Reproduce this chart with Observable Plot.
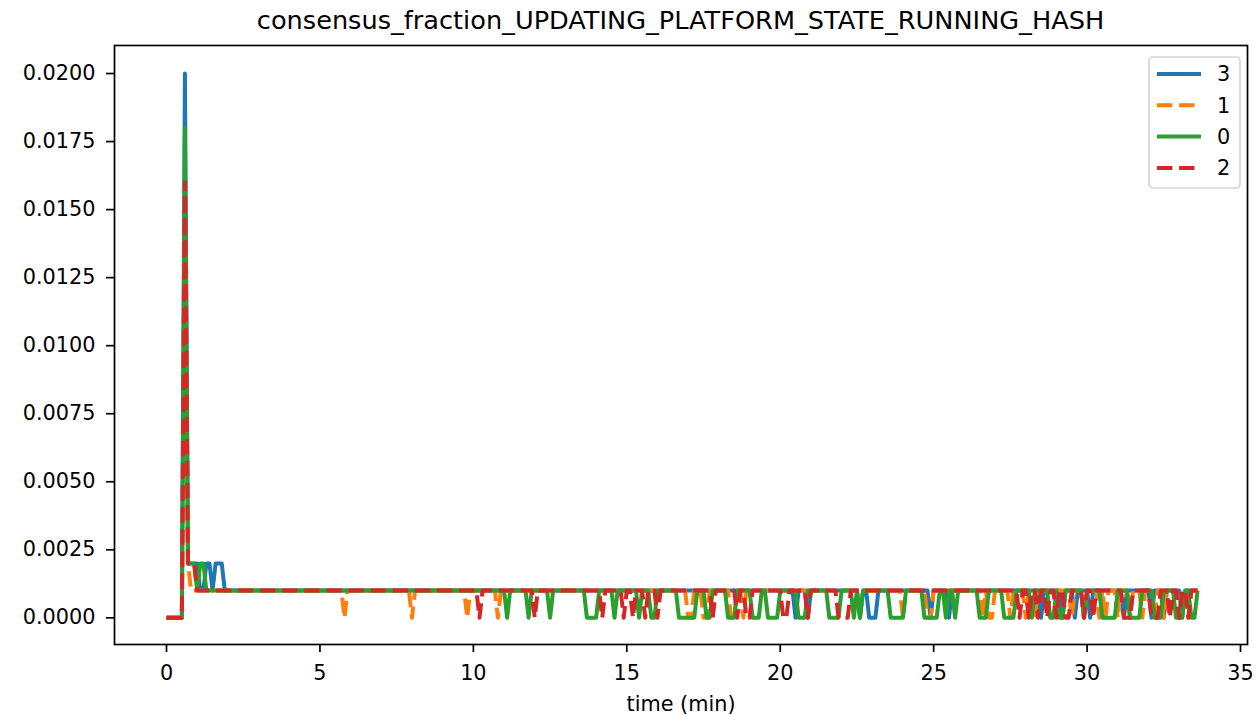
<!DOCTYPE html>
<html>
<head>
<meta charset="utf-8">
<script src="https://cdn.jsdelivr.net/npm/d3@7"></script>
<script src="https://cdn.jsdelivr.net/npm/@observablehq/plot@0.6"></script>
<style>
  body { margin: 0; background: #fff; font-family: "DejaVu Sans", sans-serif; }
  #wrap { position: relative; width: 1256px; height: 715px; overflow: hidden; }
  #title { height: 40px; line-height: 40px; font-size: 25.6px; color: #000;
           padding-left: 114px; width: 1133px; text-align: center; white-space: nowrap; }
  #legend { position: absolute; left: 0; top: 0; pointer-events: none; }
</style>
</head>
<body>
<div id="wrap">
  <div id="title"></div>
  <div id="chart"></div>
  <svg id="legend" width="1256" height="715"></svg>
</div>
<script>
// ---------------- data ----------------
const chartTitle = "consensus_fraction_UPDATING_PLATFORM_STATE_RUNNING_HASH";
const xLabel = "time (min)";
const xTicks = [0, 5, 10, 15, 20, 25, 30, 35];
const yTicks = [0, 0.0025, 0.005, 0.0075, 0.01, 0.0125, 0.015, 0.0175, 0.02];

// series in legend / drawing order
const seriesNames = ["3", "1", "0", "2"];

// sample interval (minutes) of every series
const sampleStep = 0.1;
// each character = one sample, value in thousandths written in base 36 (k=20, i=18, g=16)
const F = "1111111111";
const values3 = ["000000k222","2112212221",F,F,F,F,F,F,F,F,F,F,F,F,F,F,F,F,F,F,
  "1111101110",F,"1111110110","0011111111","1111111110","1111101111",F,F,
  "1111101111","1101110111","1011111111","1101111111","1011101111","1011111"];
const values1 = ["000000g211",F,F,F,F,"1111111101",F,F,"0111111111","1111111101",
  "1111111101",F,F,F,F,F,F,"0011100111","1111001101",F,F,F,F,F,
  "0111111100",F,"1111110100","1111101111","0110111111","1111101110",
  "1111010111","0111011101","1101101111","0110111"];
const values0 = ["000000i222","1221111111",F,F,F,F,F,F,F,F,F,
  "1011111101","1111101111","1111111000","0111110111","1111011100","1111111000",
  "0001110011","1110001111","1000110000","1111110001","1111110000","1111010111",
  "1111110000","0111111000","0011011011","1111100011","1110000111","1101111100",
  "1001111110","1111100000","1111000011","1100011110","0011001"];
const values2 = ["000000g222",F,F,F,F,F,F,F,F,F,"1101111111",F,"0111111111",F,
  "1101111110","1101110111","0111111111","1111111101","1111110110","0111111111",
  "1001111110","1111111110","0001111111",F,F,F,F,"1111111101","1011011011",
  "0110011110","1101111111","1100011111","1000111011","0110111"];

const seriesValues = [values3, values1, values0, values2];

// ---------------- styles ----------------
const colors = ["#1f77b4", "#ff7f0e", "#2ca02c", "#d62728"];
const dashes = [null, "15.4,6.7", null, "15.4,6.7"];
const lineWidth = 4;

// ---------------- build table ----------------
const rows = [];
seriesNames.forEach((name, k) => {
  const s = seriesValues[k].join("");
  for (let i = 0; i < s.length; i++) {
    rows.push({series: name, t: +(i * sampleStep).toFixed(1), v: parseInt(s[i], 36) / 1000});
  }
});

document.getElementById("title").textContent = chartTitle;

const lineMarks = seriesNames.map((name, k) =>
  Plot.line(rows.filter(d => d.series === name), {
    x: "t", y: "v",
    stroke: colors[k],
    strokeWidth: lineWidth,
    strokeDasharray: dashes[k] ?? undefined,
    strokeLinejoin: "round",
    strokeLinecap: "butt"
  })
);

const chart = Plot.plot({
  width: 1256,
  height: 675,
  marginLeft: 114,
  marginRight: 9,
  marginTop: 5,
  marginBottom: 71,
  style: {fontFamily: "DejaVu Sans, sans-serif", fontSize: "20.8px", color: "#000", background: "#fff", overflow: "visible"},
  x: {domain: [-1.695, 35.228]},
  y: {domain: [-0.00098, 0.02103]},
  marks: [
    ...lineMarks,
    Plot.axisY({ticks: yTicks, tickFormat: d3.format(".4f"), tickSize: 8, tickPadding: 11, strokeWidth: 1.7, label: null}),
    Plot.axisX({ticks: xTicks, tickFormat: d => String(d), tickSize: 8, tickPadding: 13, strokeWidth: 1.7,
                label: xLabel, labelAnchor: "center", labelArrow: "none", labelOffset: 66}),
    Plot.frame({stroke: "#000", strokeWidth: 1.7})
  ]
});
document.getElementById("chart").appendChild(chart);

// ---------------- legend ----------------
const leg = d3.select("#legend");
const box = {x: 1149, y: 57, w: 91, h: 131};
leg.append("rect")
  .attr("x", box.x).attr("y", box.y).attr("width", box.w).attr("height", box.h)
  .attr("rx", 4).attr("ry", 4)
  .attr("fill", "rgba(255,255,255,0.8)").attr("stroke", "#d5d5d5").attr("stroke-width", 1.7);
seriesNames.forEach((name, k) => {
  const cy = 74 + k * 31.3;
  leg.append("line")
    .attr("x1", 1157).attr("x2", 1201).attr("y1", cy).attr("y2", cy)
    .attr("stroke", colors[k]).attr("stroke-width", lineWidth)
    .attr("stroke-dasharray", dashes[k]);
  leg.append("text")
    .attr("x", 1217).attr("y", cy).attr("dy", "0.36em")
    .attr("font-family", "DejaVu Sans, sans-serif").attr("font-size", "20.8px")
    .attr("fill", "#000")
    .text(name);
});
</script>
</body>
</html>
